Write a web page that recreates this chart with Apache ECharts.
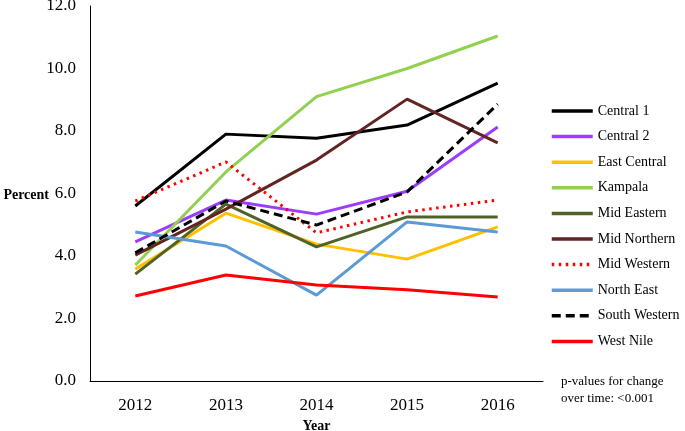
<!DOCTYPE html>
<html><head><meta charset="utf-8">
<script src="https://cdn.jsdelivr.net/npm/echarts@6/dist/echarts.min.js"></script>
<style>html,body{margin:0;padding:0;background:#fff}#c{width:685px;height:431px}</style>
</head><body><div id="c"></div>
<script>
const years = ['2012','2013','2014','2015','2016'];
const yTicks = [0, 2, 4, 6, 8, 10, 12];
const central1 = [5.6, 7.9, 7.77, 8.19, 9.53];
const central2 = [4.45, 5.79, 5.34, 6.07, 8.13];
const eastCentral = [3.58, 5.37, 4.38, 3.9, 4.93];
const kampala = [3.71, 6.69, 9.1, 10.0, 11.04];
const midEastern = [3.42, 5.66, 4.29, 5.25, 5.25];
const midNorthern = [4.03, 5.5, 7.07, 9.02, 7.62];
const midWestern = [5.76, 7.01, 4.74, 5.41, 5.79];
const northEast = [4.77, 4.32, 2.75, 5.09, 4.77];
const southWestern = [4.1, 5.76, 4.99, 6.05, 8.86];
const westNile = [2.72, 3.39, 3.07, 2.92, 2.69];

const F = '"Liberation Serif","Times New Roman",serif';
function s(name, data, color, type) {
  return {name, type:'line', data, symbol:'none', showSymbol:false,
    lineStyle:{color, width:3, type: type||'solid'}, itemStyle:{color}, animation:false};
}
const chart = echarts.init(document.getElementById('c'));
chart.setOption({
  animation:false,
  grid:{left:90, right:142, top:6, bottom:50, containLabel:false, outerBoundsMode:'none'},
  xAxis:{type:'category', data:years, boundaryGap:true,
    axisLine:{lineStyle:{color:'#000', width:1}}, axisTick:{show:false},
    axisLabel:{color:'#000', fontFamily:F, fontSize:17, margin:16},
    name:'Year', nameLocation:'middle', nameGap:37,
    nameTextStyle:{color:'#000', fontFamily:F, fontSize:14, fontWeight:'bold'}},
  yAxis:{type:'value', min:yTicks[0], max:yTicks[yTicks.length-1], interval:2,
    axisLine:{show:true, lineStyle:{color:'#000', width:1}}, axisTick:{show:false},
    splitLine:{show:false},
    axisLabel:{color:'#000', fontFamily:F, fontSize:17, margin:14, formatter:v=>v.toFixed(1)}},
  legend:{orient:'vertical', left:550, top:104, padding:0, itemWidth:41, itemHeight:14, itemGap:11.6,
    itemStyle:{opacity:0, borderWidth:0}, lineStyle:{width:3.5},
    textStyle:{color:'#000', fontFamily:F, fontSize:14}},
  graphic:[
    {type:'text', left:561, top:373,
     style:{text:'p-values for change\nover time: <0.001', fill:'#000', font:'13px '+F, lineHeight:17}},
    {type:'text', x:49, y:195,
     style:{text:'Percent', fill:'#000', font:'bold 14px '+F, align:'right', verticalAlign:'middle'}}
  ],
  series:[
    s('Central 1', central1, '#000000'),
    s('Central 2', central2, '#9B3DFF'),
    s('East Central', eastCentral, '#FFC000'),
    s('Kampala', kampala, '#92D050'),
    s('Mid Eastern', midEastern, '#4F6228'),
    s('Mid Northern', midNorthern, '#632523'),
    s('Mid Western', midWestern, '#FF0000', [2.5,4.5]),
    s('North East', northEast, '#5B9BD5'),
    s('South Western', southWestern, '#000000', [9,5]),
    s('West Nile', westNile, '#FF0000')
  ]
});
</script></body></html>
